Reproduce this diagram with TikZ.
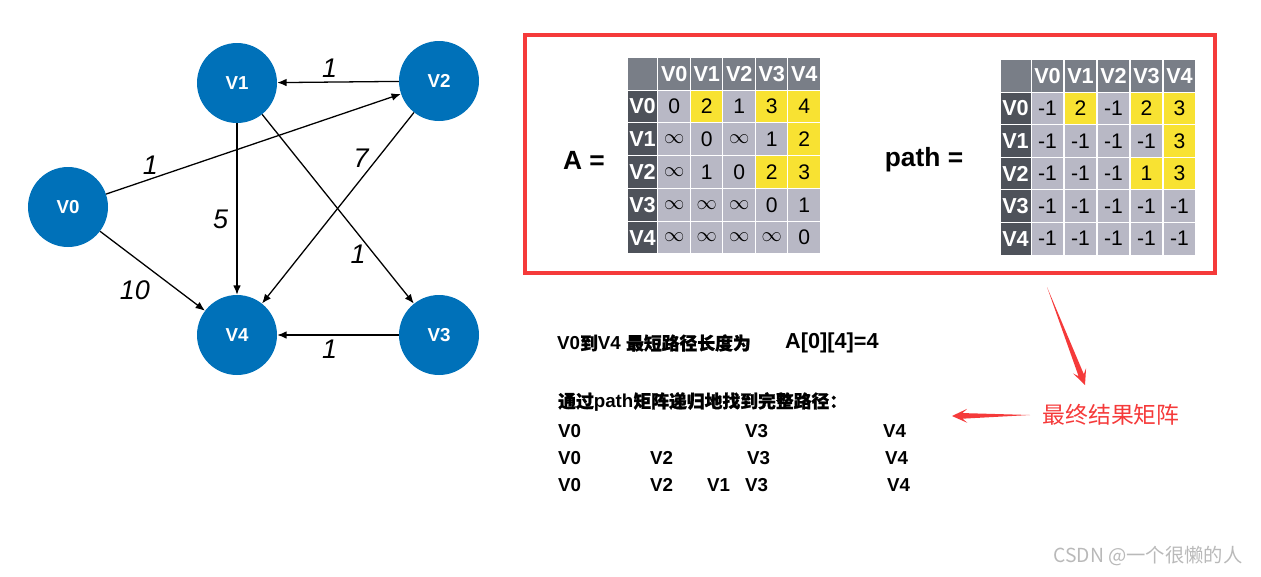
\documentclass[tikz,border=0pt]{standalone}
\usepackage{fontspec}
\setmainfont{Liberation Sans}
\newfontfamily\cjk{Noto Sans CJK SC}
\newfontfamily\cjkbold{Noto Sans CJK SC}[FakeBold=1.2]
\usetikzlibrary{arrows.meta,calc}

\definecolor{nodeblue}{RGB}{0,113,185}
\definecolor{boxred}{RGB}{245,58,58}
\definecolor{hdrgray}{RGB}{121,126,135}
\definecolor{sidegray}{RGB}{78,82,90}
\definecolor{celln}{RGB}{184,184,197}
\definecolor{celly}{RGB}{248,226,50}
\definecolor{markgray}{RGB}{185,185,185}

\tikzset{
  vertex/.style={circle, fill=nodeblue, minimum size=2.4cm, inner sep=0pt,
    text=white, font=\fontsize{16}{16}\selectfont\bfseries},
  link/.style={-{Latex[length=8pt,width=6.5pt]}, line width=1.1pt},
  weight/.style={font=\fontsize{23}{23}\selectfont\itshape},
  cell/.style={minimum width=0.98cm, minimum height=0.98cm, inner sep=0pt,
    draw=white, line width=0.8pt, font=\fontsize{18}{18}\selectfont},
  hdr/.style={cell, fill=hdrgray, text=white, font=\fontsize{18.5}{18.5}\selectfont\bfseries},
  side/.style={hdr, fill=sidegray, minimum width=0.93cm},
  info/.style={anchor=west, inner sep=0pt, font=\fontsize{16}{16}\selectfont\bfseries},
}
\newcommand\zh[1]{{\cjkbold\fontsize{15.2}{15.5}\selectfont #1}}
\newcommand\infsym{{\fontsize{16}{16}\selectfont$\infty$}}
\newcommand\brusharrow[2]{%
  \fill[boxred] let \p1=($(#2)-(#1)$), \n1={atan2(\y1,\x1)} in
    (#1) -- ($(#2)+({\n1+180}:9pt)+({\n1+90}:2.4pt)$)
    -- ($(#2)+({\n1+180}:13pt)+({\n1+90}:6pt)$) -- (#2)
    -- ($(#2)+({\n1+180}:13pt)+({\n1-90}:6pt)$)
    -- ($(#2)+({\n1+180}:9pt)+({\n1-90}:2.4pt)$) -- cycle;}

\begin{document}
\begin{tikzpicture}
  [x=0.03cm, y=-0.03cm]
  \useasboundingbox (0,0) rectangle (1261,576);

  \node[vertex] (V0) at (68, 207) {V0};
  \node[vertex] (V1) at (237, 83) {V1};
  \node[vertex] (V2) at (439, 81) {V2};
  \node[vertex] (V3) at (439, 335) {V3};
  \node[vertex] (V4) at (237, 335) {V4};

  \foreach \from/\to/\w/\p/\anch in {V2/V1/1/0.57/south, V0/V2/1/0.15/south,
      V1/V4/5/0.56/east, V2/V4/7/0.24/east, V1/V3/1/0.74/east,
      V0/V4/10/0.56/north east, V3/V4/1/0.57/north}
  \draw[link] (\from) -- node[weight, pos=\p, anchor=\anch, inner xsep=7pt] {\w} (\to);

  \draw[boxred, line width=2.6pt] (525, 35) rectangle (1215, 273);

  \node[font=\fontsize{22.5}{22.5}\selectfont\bfseries] (Alabel) at (584, 160) {A =};
  \node[font=\fontsize{22.5}{22.5}\selectfont\bfseries] (Plabel) at (924, 160) {path =};

  \node[hdr, minimum width=0.93cm] (A-0) at (642.5, 74) {};
  \node[hdr, minimum width=0.93cm] (P-0) at (1015.5, 76) {};
  \foreach \lab [count=\c] in {V0,V1,V2,V3,V4} {
    \node[hdr] (A-top-\c) at ({658+32.5*(\c-0.5)}, 74) {\lab};
    \node[side] (A-left-\c) at (642.5, {90+32.8*(\c-0.5)}) {\lab};
    \node[hdr] (P-top-\c) at ({1031+33*(\c-0.5)}, 76) {\lab};
    \node[side] (P-left-\c) at (1015.5, {92+32.6*(\c-0.5)}) {\lab};
  }

  \foreach \vals [count=\r] in {{n/0,y/2,n/1,y/3,y/4}, {n/\infsym,n/0,n/\infsym,n/1,y/2},
      {n/\infsym,n/1,n/0,y/2,y/3}, {n/\infsym,n/\infsym,n/\infsym,n/0,n/1},
      {n/\infsym,n/\infsym,n/\infsym,n/\infsym,n/0}}
    \foreach \f/\v [count=\c] in \vals
      \node[cell, fill=cell\f] (A-\r-\c) at ({658+32.5*(\c-0.5)}, {90+32.8*(\r-0.5)}) {\v};

  \foreach \vals [count=\r] in {{n/-1,y/2,n/-1,y/2,y/3}, {n/-1,n/-1,n/-1,n/-1,y/3},
      {n/-1,n/-1,n/-1,y/1,y/3}, {n/-1,n/-1,n/-1,n/-1,n/-1}, {n/-1,n/-1,n/-1,n/-1,n/-1}}
    \foreach \f/\v [count=\c] in \vals
      \node[cell, fill=cell\f] (P-\r-\c) at ({1031+33*(\c-0.5)}, {92+32.6*(\r-0.5)}) {\v};

  \node[info] (len) at (557, 343) {V0\zh{到}V4 \zh{最短路径长度为}};
  \node[info, font=\fontsize{18.5}{18.5}\selectfont\bfseries] (lenval) at (785, 343) {A[0][4]=4};
  \node[info] (how) at (558, 402) {\zh{通过}path\zh{矩阵递归地找到完整路径：}};
  \foreach \x/\y/\t [count=\i] in {558/431/V0, 745/431/V3, 883/431/V4,
      558/458/V0, 650/458/V2, 747/458/V3, 885/458/V4,
      558/485/V0, 650/485/V2, 707/485/V1, 745/485/V3, 887/485/V4}
    \node[info] (step\i) at (\x, \y) {\t};

  \node[text=boxred, font=\cjk\fontsize{19.5}{20}\selectfont] (result) at (1111, 415) {最终结果矩阵};
  \coordinate (tailA) at (1047, 287);
  \coordinate (tipA) at (1085, 385);
  \coordinate (tailB) at (1030, 415);
  \coordinate (tipB) at (952, 416);
  \brusharrow{tailA}{tipA}
  \brusharrow{tailB}{tipB}

  \node[text=markgray, font=\cjk\fontsize{16.5}{17}\selectfont] (mark) at (1148, 556) {CSDN @一个很懒的人};
\end{tikzpicture}
\end{document}
